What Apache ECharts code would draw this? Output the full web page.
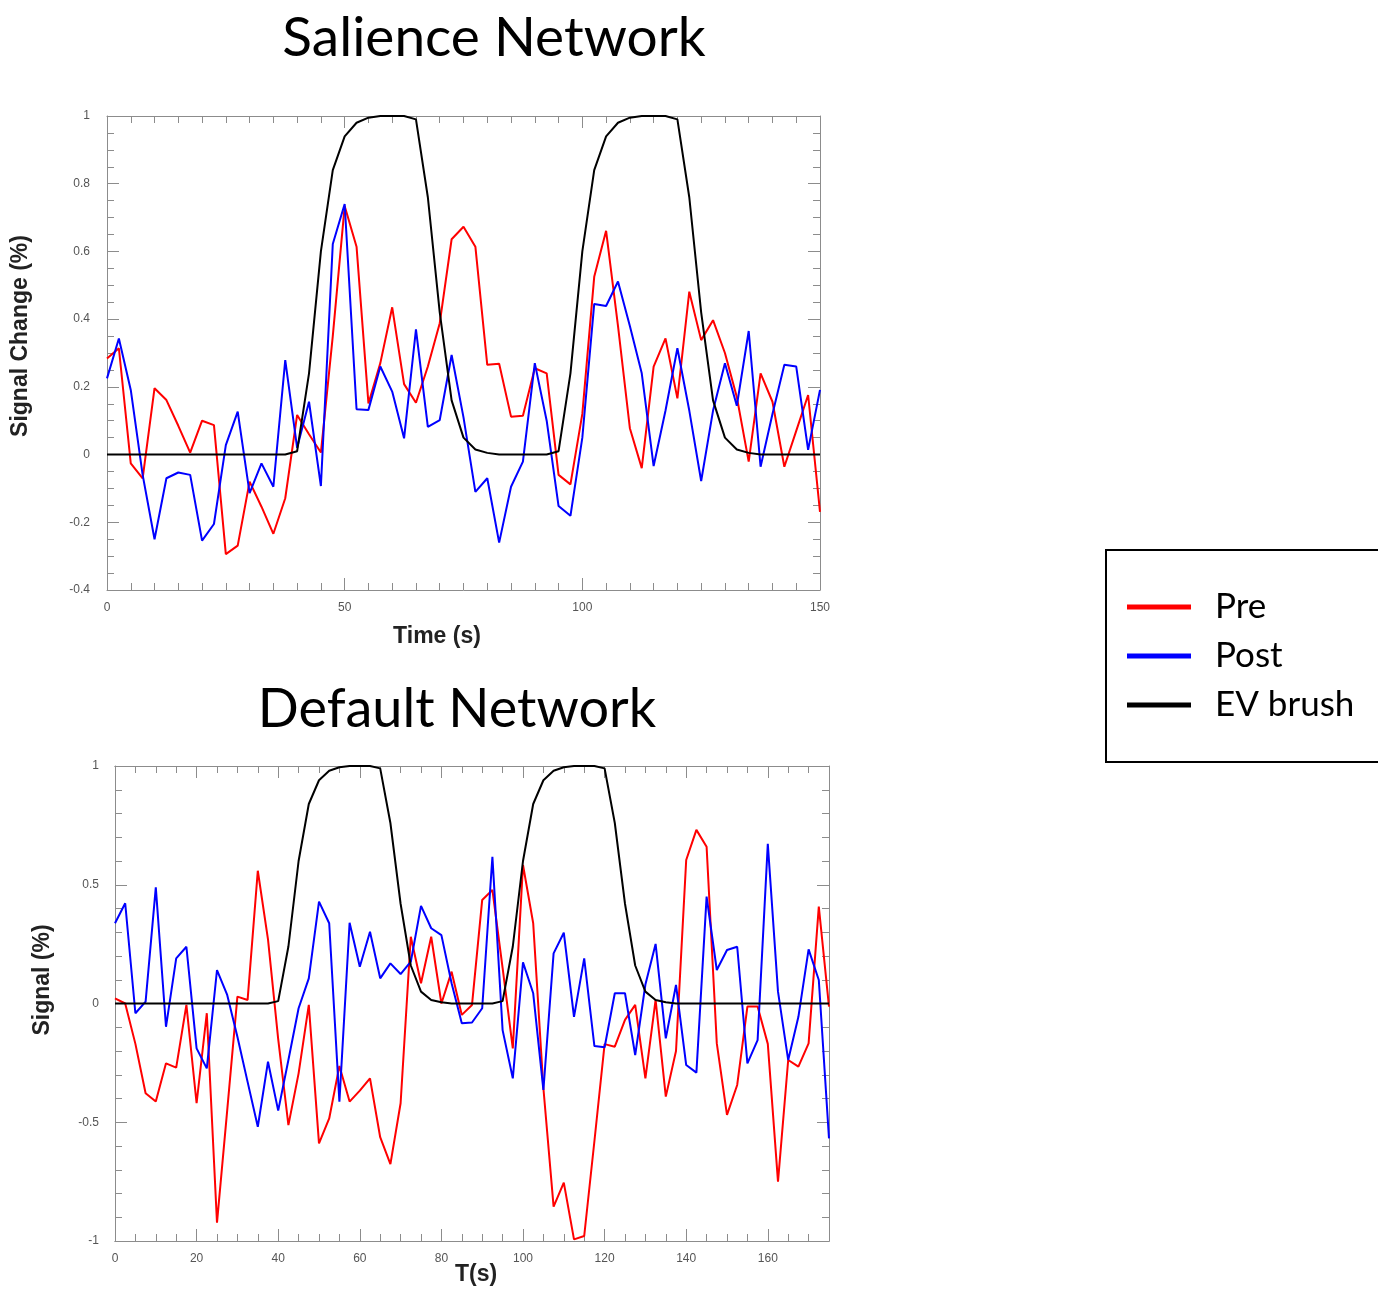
<!DOCTYPE html>
<html>
<head>
<meta charset="utf-8">
<title>Salience and Default Network time courses</title>
<script src="https://cdn.jsdelivr.net/npm/echarts@6/dist/echarts.min.js"></script>
<style>
  html, body { margin: 0; padding: 0; background: #fff; }
  #chart { width: 1378px; height: 1290px; }
</style>
</head>
<body>
<div id="chart"></div>
<script>
// Sampling interval (s) of both runs
const TR = 2.5;

// Salience Network, 0–150 s
const salienceTicksX = [0, 50, 100, 150];
const saliencePre = [
  0.284, 0.314, -0.026, -0.070, 0.196, 0.161, 0.085, 0.006, 0.100, 0.087,
  -0.294, -0.269, -0.080, -0.154, -0.234, -0.129, 0.117, 0.060, 0.006, 0.350,
  0.734, 0.614, 0.151, 0.270, 0.435, 0.208, 0.153, 0.260, 0.388, 0.636,
  0.673, 0.614, 0.265, 0.268, 0.112, 0.115, 0.255, 0.240, -0.060, -0.088,
  0.120, 0.525, 0.661, 0.380, 0.078, -0.040, 0.260, 0.343, 0.166, 0.481,
  0.338, 0.397, 0.300, 0.170, -0.021, 0.240, 0.156, -0.036, 0.070, 0.176,
  -0.169
];
const saliencePost = [
  0.225, 0.343, 0.191, -0.060, -0.250, -0.070, -0.053, -0.060, -0.254, -0.205,
  0.028, 0.127, -0.114, -0.026, -0.095, 0.279, 0.020, 0.156, -0.093, 0.622,
  0.740, 0.134, 0.132, 0.260, 0.186, 0.048, 0.370, 0.082, 0.102, 0.294,
  0.110, -0.110, -0.070, -0.260, -0.095, -0.021, 0.270, 0.100, -0.152, -0.181,
  0.050, 0.445, 0.439, 0.511, 0.380, 0.240, -0.034, 0.130, 0.314, 0.130,
  -0.078, 0.130, 0.270, 0.144, 0.365, -0.036, 0.120, 0.265, 0.260, 0.014,
  0.191
];

// Default Network, 0–175 s
const defaultTicksX = [0, 20, 40, 60, 80, 100, 120, 140, 160];
const defaultPre = [
  0.022, 0.000, -0.170, -0.378, -0.413, -0.252, -0.270, -0.006, -0.420, -0.041,
  -0.923, -0.450, 0.029, 0.015, 0.559, 0.270, -0.150, -0.512, -0.294, -0.006,
  -0.589, -0.484, -0.263, -0.413, -0.367, -0.315, -0.563, -0.676, -0.420, 0.281,
  0.085, 0.281, 0.000, 0.134, -0.048, -0.006, 0.436, 0.478, 0.150, -0.189,
  0.583, 0.338, -0.357, -0.855, -0.754, -0.993, -0.979, -0.580, -0.171, -0.182,
  -0.069, -0.006, -0.315, 0.015, -0.392, -0.200, 0.604, 0.731, 0.660, -0.168,
  -0.469, -0.343, -0.013, -0.013, -0.170, -0.750, -0.238, -0.266, -0.168, 0.408,
  -0.013
];
const defaultPost = [
  0.338, 0.422, -0.041, 0.008, 0.489, -0.098, 0.190, 0.239, -0.189, -0.273,
  0.141, 0.036, -0.140, -0.330, -0.519, -0.245, -0.451, -0.238, -0.020, 0.106,
  0.429, 0.338, -0.413, 0.340, 0.155, 0.302, 0.106, 0.169, 0.124, 0.176,
  0.411, 0.317, 0.288, 0.085, -0.083, -0.080, -0.020, 0.618, -0.112, -0.315,
  0.173, 0.043, -0.364, 0.211, 0.298, -0.056, 0.190, -0.179, -0.184, 0.043,
  0.043, -0.217, 0.080, 0.251, -0.147, 0.078, -0.259, -0.291, 0.450, 0.141,
  0.225, 0.239, -0.252, -0.154, 0.672, 0.050, -0.238, -0.056, 0.228, 0.099,
  -0.568
];

// Explanatory variable (block design convolved with the HRF), 0–175 s
const evBrush = [
  0, 0, 0, 0, 0, 0, 0, 0, 0, 0,
  0, 0, 0, 0, 0, 0, 0.010, 0.240, 0.600, 0.840,
  0.940, 0.980, 0.995, 1.000, 1.000, 1.000, 0.990, 0.760, 0.420, 0.160,
  0.050, 0.015, 0.005, 0, 0, 0, 0, 0, 0.010, 0.240,
  0.600, 0.840, 0.940, 0.980, 0.995, 1.000, 1.000, 1.000, 0.990, 0.760,
  0.420, 0.160, 0.050, 0.015, 0.005, 0, 0, 0, 0, 0,
  0, 0, 0, 0, 0, 0, 0, 0, 0, 0,
  0
];

const seriesColors = { Pre: '#ff0000', Post: '#0000ff', 'EV brush': '#000000' };

function toPoints(values) {
  return values.map((v, i) => [i * TR, v]);
}

const frameColor = '#8c8c8c';
const labelStyle = { color: '#555', fontFamily: 'Liberation Sans, Arial, sans-serif', fontSize: 12 };
const axisNameFont = 'bold 23px Liberation Sans, Arial, sans-serif';

function frameAxis(extra) {
  return Object.assign({
    type: 'value',
    axisLine: { show: true, onZero: false, lineStyle: { color: frameColor, width: 1 } },
    axisTick: { show: true, inside: true, length: 12, lineStyle: { color: frameColor } },
    minorTick: { show: false },
    axisLabel: { show: false },
    splitLine: { show: false }
  }, extra);
}

function lineSeries(name, values, xi, yi) {
  return {
    type: 'line',
    name: name,
    xAxisIndex: xi,
    yAxisIndex: yi,
    data: toPoints(values),
    showSymbol: false,
    symbol: 'none',
    color: seriesColors[name],
    lineStyle: { width: 2, color: seriesColors[name] },
    clip: true,
    z: 3
  };
}

const salienceMaxT = salienceTicksX[salienceTicksX.length - 1];
const defaultMaxT = 175;

const option = {
  animation: false,
  backgroundColor: '#ffffff',
  grid: [
    { left: 107, top: 116, width: 713, height: 474 },
    { left: 115, top: 766, width: 714, height: 475 }
  ],
  xAxis: [
    // Salience: bottom with labels, top mirror
    frameAxis({
      gridIndex: 0, position: 'bottom', min: 0, max: salienceMaxT,
      interval: salienceTicksX[1] - salienceTicksX[0],
      minorTick: { show: true, splitNumber: 10, length: 7, lineStyle: { color: frameColor } },
      axisLabel: Object.assign({ show: true, margin: 12 }, labelStyle)
    }),
    frameAxis({
      gridIndex: 0, position: 'top', min: 0, max: salienceMaxT,
      interval: salienceTicksX[1] - salienceTicksX[0],
      minorTick: { show: true, splitNumber: 10, length: 7, lineStyle: { color: frameColor } }
    }),
    // Default: major (20 s) and minor (5 s) ticks on bottom and top
    frameAxis({
      gridIndex: 1, position: 'bottom', min: 0, max: defaultMaxT,
      interval: defaultTicksX[1] - defaultTicksX[0],
      axisLabel: Object.assign({ show: true, margin: 12, showMaxLabel: false }, labelStyle)
    }),
    frameAxis({
      gridIndex: 1, position: 'bottom', min: 0, max: defaultMaxT, interval: 5,
      axisTick: { show: true, inside: true, length: 7, lineStyle: { color: frameColor } }
    }),
    frameAxis({
      gridIndex: 1, position: 'top', min: 0, max: defaultMaxT,
      interval: defaultTicksX[1] - defaultTicksX[0]
    }),
    frameAxis({
      gridIndex: 1, position: 'top', min: 0, max: defaultMaxT, interval: 5,
      axisTick: { show: true, inside: true, length: 7, lineStyle: { color: frameColor } }
    })
  ],
  yAxis: [
    frameAxis({
      gridIndex: 0, position: 'left', min: -0.4, max: 1, interval: 0.2,
      minorTick: { show: true, splitNumber: 4, length: 7, lineStyle: { color: frameColor } },
      axisLabel: Object.assign({ show: true, margin: 17 }, labelStyle)
    }),
    frameAxis({
      gridIndex: 0, position: 'right', min: -0.4, max: 1, interval: 0.2,
      minorTick: { show: true, splitNumber: 4, length: 7, lineStyle: { color: frameColor } }
    }),
    frameAxis({
      gridIndex: 1, position: 'left', min: -1, max: 1, interval: 0.5,
      minorTick: { show: true, splitNumber: 5, length: 7, lineStyle: { color: frameColor } },
      axisLabel: Object.assign({ show: true, margin: 16 }, labelStyle)
    }),
    frameAxis({
      gridIndex: 1, position: 'right', min: -1, max: 1, interval: 0.5,
      minorTick: { show: true, splitNumber: 5, length: 7, lineStyle: { color: frameColor } }
    })
  ],
  legend: {
    orient: 'vertical',
    left: 1106,
    top: 550,
    data: ['Pre', 'Post', 'EV brush'],
    icon: 'rect',
    itemWidth: 64,
    itemHeight: 5,
    itemGap: 9,
    padding: [37, 120, 37, 21],
    borderColor: '#000',
    borderWidth: 2,
    selectedMode: false,
    textStyle: {
      color: '#000',
      fontFamily: 'Lato, sans-serif',
      fontSize: 35,
      lineHeight: 40,
      padding: [0, 0, 0, 19]
    }
  },
  graphic: [
    {
      type: 'text', x: 494, y: 38,
      style: { text: 'Salience Network', fill: '#000', font: '55px Lato, sans-serif', textAlign: 'center', textVerticalAlign: 'middle' }
    },
    {
      type: 'text', x: 457, y: 710,
      style: { text: 'Default Network', fill: '#000', font: '54px Lato, sans-serif', textAlign: 'center', textVerticalAlign: 'middle' }
    },
    {
      type: 'text', x: 437, y: 637,
      style: { text: 'Time (s)', fill: '#222', font: axisNameFont, textAlign: 'center', textVerticalAlign: 'middle' }
    },
    {
      type: 'text', x: 476, y: 1275,
      style: { text: 'T(s)', fill: '#222', font: axisNameFont, textAlign: 'center', textVerticalAlign: 'middle' }
    },
    {
      type: 'text', x: 21, y: 336, rotation: Math.PI / 2,
      style: { text: 'Signal Change (%)', fill: '#222', font: axisNameFont, textAlign: 'center', textVerticalAlign: 'middle' }
    },
    {
      type: 'text', x: 43, y: 980, rotation: Math.PI / 2,
      style: { text: 'Signal (%)', fill: '#222', font: axisNameFont, textAlign: 'center', textVerticalAlign: 'middle' }
    }
  ],
  series: [
    lineSeries('Pre', saliencePre, 0, 0),
    lineSeries('Post', saliencePost, 0, 0),
    lineSeries('EV brush', evBrush.slice(0, saliencePre.length), 0, 0),
    lineSeries('Pre', defaultPre, 2, 2),
    lineSeries('Post', defaultPost, 2, 2),
    lineSeries('EV brush', evBrush, 2, 2)
  ]
};

const chart = echarts.init(document.getElementById('chart'), null, { renderer: 'canvas' });
chart.setOption(option);
</script>
</body>
</html>
